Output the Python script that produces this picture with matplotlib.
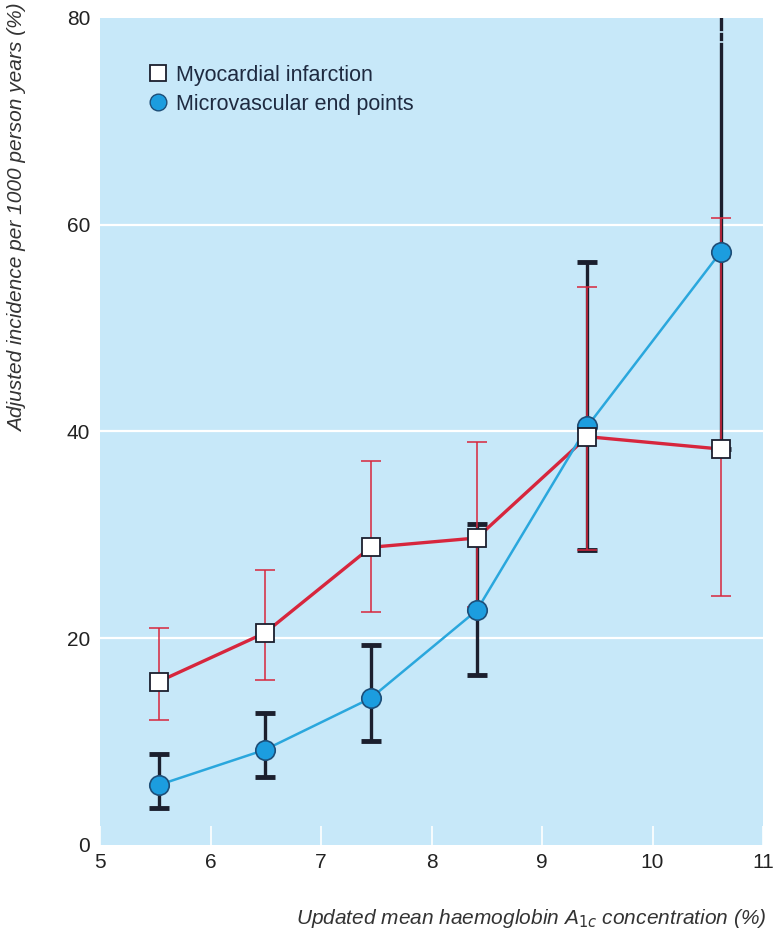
import matplotlib
matplotlib.use("Agg")
import matplotlib.pyplot as plt
from matplotlib.lines import Line2D

# HbA1c category means (x) and adjusted incidence per 1000 person years
hba1c = [5.53, 6.49, 7.45, 8.41, 9.41, 10.62]

mi = [15.8, 20.5, 28.8, 29.7, 39.5, 38.3]
mi_lo = [12.1, 16.0, 22.5, 23.0, 28.5, 24.1]
mi_hi = [21.0, 26.6, 37.1, 39.0, 54.0, 60.7]

micro = [5.8, 9.2, 14.2, 22.7, 40.5, 57.4]
micro_lo = [3.6, 6.6, 10.1, 16.4, 28.5, 38.3]
micro_hi = [8.8, 12.8, 19.3, 31.1, 56.4, 95.0]

x_ticks = [5, 6, 7, 8, 9, 10, 11]
y_ticks = [0, 20, 40, 60, 80]

RED = "#d7263d"
BLUE = "#2aa7dd"
DOT = "#1c9ddf"
DARK = "#1b1f2e"
BG = "#c7e8f9"

plt.rcParams["font.family"] = ["Liberation Sans", "DejaVu Sans"]

fig = plt.figure(figsize=(7.73, 9.35), dpi=100)
ax = fig.add_axes([100 / 773, 1 - 845 / 935, 663 / 773, 827 / 935])
ax.set_facecolor(BG)
for s in ax.spines.values():
    s.set_visible(False)

ax.set_xlim(5, 11)
ax.set_ylim(0, 80)
ax.set_xticks(x_ticks)
ax.set_yticks(y_ticks)
ax.tick_params(axis="x", direction="in", length=14, width=1.2, color="white",
               labelsize=15, labelcolor="#222222", pad=6)
ax.tick_params(axis="y", length=0, labelsize=15, labelcolor="#222222", pad=7)
for y in y_ticks[1:-1]:
    ax.axhline(y, color="white", lw=1.6, zorder=1)

# error bars: black (microvascular) below the thin red (MI) ones
ax.errorbar(hba1c, micro,
            yerr=[[m - l for m, l in zip(micro, micro_lo)],
                  [h - m for m, h in zip(micro, micro_hi)]],
            fmt="none", ecolor=DARK, elinewidth=2.4, capsize=7, capthick=3.5, zorder=2)
# small breaks on the truncated upper bar
for yb in [77.7, 78.6]:
    ax.plot([hba1c[-1] - 0.015, hba1c[-1] + 0.015], [yb, yb], color=BG, lw=1.2, zorder=2.5)

ax.errorbar(hba1c, mi,
            yerr=[[m - l for m, l in zip(mi, mi_lo)],
                  [h - m for m, h in zip(mi, mi_hi)]],
            fmt="none", ecolor=RED, elinewidth=1.1, capsize=7, capthick=1.1, zorder=3)

ax.plot(hba1c, mi, color=RED, lw=2.4, zorder=3.5)
ax.plot(hba1c, micro, color=BLUE, lw=1.8, zorder=3.6)
ax.plot(hba1c, micro, ls="none", marker="o", ms=14, mfc=DOT, mec="#1d4e78", mew=1.2, zorder=4)
ax.plot(hba1c, mi, ls="none", marker="s", ms=13, mfc="white", mec=DARK, mew=1.3, zorder=5)

handles = [
    Line2D([], [], ls="none", marker="s", ms=11, mfc="white", mec=DARK, mew=1.3),
    Line2D([], [], ls="none", marker="o", ms=12, mfc=DOT, mec="#1d4e78", mew=1.0),
]
ax.legend(handles, ["Myocardial infarction", "Microvascular end points"],
          loc="upper left", bbox_to_anchor=(0.04, 0.967), frameon=False,
          fontsize=15.5, handletextpad=0.3, labelspacing=0.38, handlelength=1.1,
          labelcolor="#1e2a40")

ax.set_ylabel("Adjusted incidence per 1000 person years (%)", loc="top",
              fontsize=15, style="italic", color="#333333")
ax.yaxis.set_label_coords(-0.11, 1.018)
ax.set_xlabel("Updated mean haemoglobin A$_{1c}$ concentration (%)", loc="right",
              fontsize=15, style="italic", color="#333333")
ax.xaxis.set_label_coords(1.005, -0.075)

fig.savefig("out.png", dpi=100)
